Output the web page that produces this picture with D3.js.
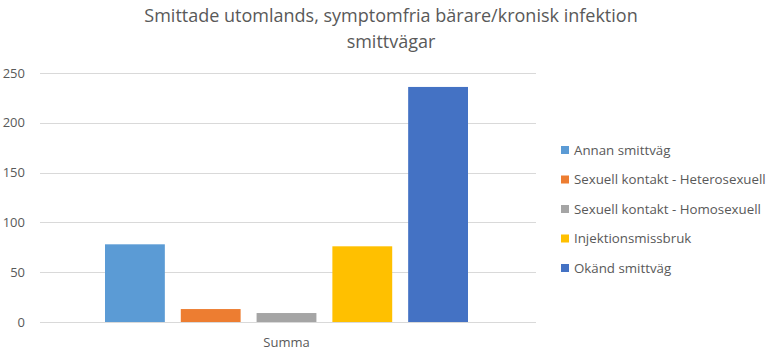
<!DOCTYPE html>
<html><head><meta charset="utf-8">
<script src="https://cdn.jsdelivr.net/npm/d3@7"></script>
<style>body{margin:0;background:#fff}svg{display:block;font-family:"Open Sans",sans-serif}</style>
</head><body><svg id="c" width="783" height="353"></svg>
<script>
const categories = ["Annan smittväg","Sexuell kontakt - Heterosexuell","Sexuell kontakt - Homosexuell","Injektionsmissbruk","Okänd smittväg"];
const values = [78, 13, 9, 76, 236];
const colors = ["#5B9BD5","#ED7D31","#A5A5A5","#FFC000","#4472C4"];
const yTicks = [0,50,100,150,200,250];
const group = ["Summa"];
const titleLines = ["Smittade utomlands, symptomfria bärare/kronisk infektion","smittvägar"];

const svg = d3.select("#c");
const m = {l:40, r:250, t:73, b:31};
const W = 783, H = 353;
const x0 = d3.scaleBand().domain(group).range([m.l, W - m.r]).paddingInner(0).paddingOuter(0);
const y = d3.scaleLinear().domain([0,250]).range([H - m.b, m.t]);
const inner = 363/493;
const x1 = d3.scaleBand().domain(categories)
  .range([x0("Summa") + x0.bandwidth()*(1-inner)/2, x0("Summa") + x0.bandwidth()*(1+inner)/2])
  .paddingInner(16/76).paddingOuter(0);

// gridlines
svg.append("g").selectAll("line").data(yTicks).join("line")
  .attr("x1", m.l).attr("x2", W - m.r + 3)
  .attr("y1", d => Math.round(y(d))+0.5).attr("y2", d => Math.round(y(d))+0.5)
  .attr("stroke", "#d9d9d9").attr("stroke-width", 1);

// y labels
svg.append("g").selectAll("text").data(yTicks).join("text")
  .attr("x", 25).attr("y", d => y(d)).attr("dy", "0.35em")
  .attr("text-anchor", "end").attr("fill", "#595959").attr("font-size", 13)
  .text(d => d);

// bars
svg.append("g").selectAll("rect").data(values).join("rect")
  .attr("x", (d,i) => x1(categories[i])).attr("width", x1.bandwidth())
  .attr("y", d => y(d)).attr("height", d => y(0) - y(d))
  .attr("fill", (d,i) => colors[i]);

// x label
svg.append("text").attr("x", x0("Summa") + x0.bandwidth()/2).attr("y", 347)
  .attr("text-anchor","middle").attr("fill","#595959").attr("font-size",13).text(group[0]);

// title
svg.append("g").selectAll("text").data(titleLines).join("text")
  .attr("x", 391).attr("y", (d,i) => 22 + i*26)
  .attr("text-anchor","middle").attr("fill","#595959").attr("font-size",18)
  .text(d => d);

// legend
const lg = svg.append("g").selectAll("g").data(categories).join("g")
  .attr("transform", (d,i) => `translate(561,${150 + i*29.5})`);
lg.append("rect").attr("x",0).attr("y",-4).attr("width",8).attr("height",8).attr("fill",(d,i)=>colors[i]);
lg.append("text").attr("x",13).attr("y",0).attr("dy","0.35em").attr("fill","#595959").attr("font-size",13.3).text(d=>d);
</script></body></html>
